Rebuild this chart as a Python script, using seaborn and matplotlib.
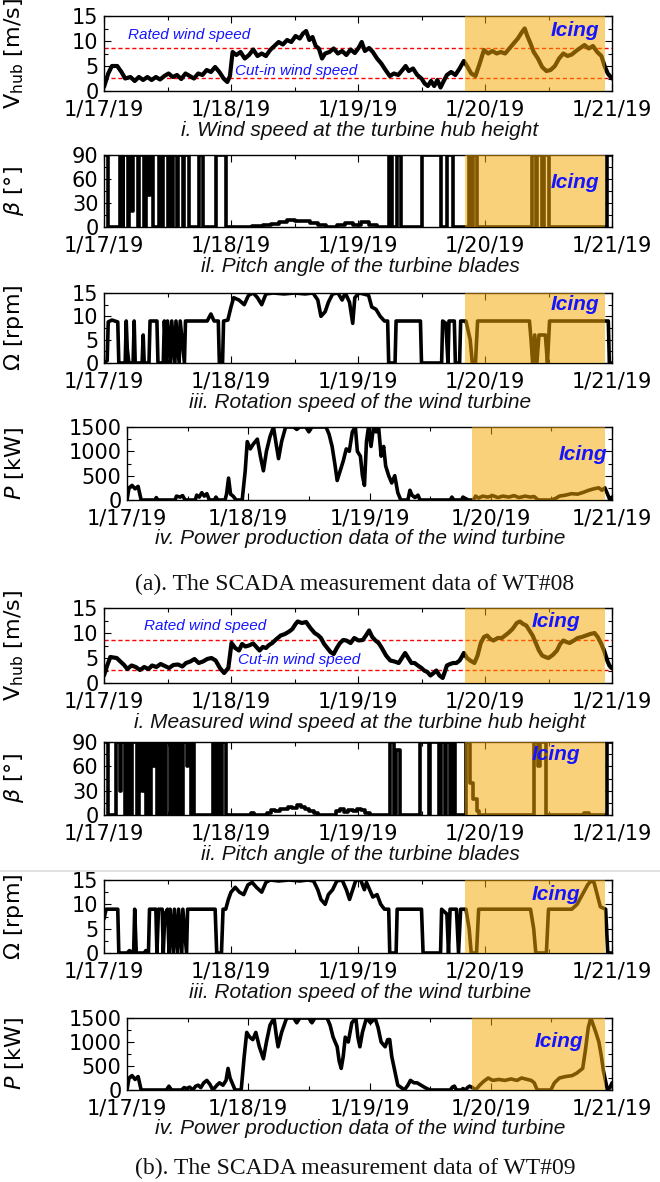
import pandas as pd
import seaborn as sns
import matplotlib.pyplot as plt
import matplotlib.dates as mdates
from matplotlib.ticker import MultipleLocator
from matplotlib.lines import Line2D

# ---- data (hour since 1/17/19 00:00, value) ----
wind_a = [(0, 0.8), (0.8, 3.5), (1.5, 5.0), (2.5, 5.0), (3.3, 3.8), (4.0, 2.5), (5, 2.8), (5.8, 2.0),
          (6.6, 2.8), (7.4, 2.2), (8.2, 2.8), (9.0, 2.2), (9.8, 2.8), (10.6, 2.3), (11.4, 3.0), (12.2, 3.5),
          (13, 2.8), (13.8, 3.2), (14.6, 2.4), (15.4, 3.5), (16.2, 3.0), (17, 2.5), (17.8, 3.5), (18.6, 3.2),
          (19.4, 4.2), (20.2, 3.8), (21, 4.8), (21.8, 3.8), (22.6, 2.5), (23.3, 1.8), (23.8, 3.0), (24.3, 7.8),
          (25, 7.2), (25.8, 7.8), (26.6, 6.5), (27.4, 7.2), (28.2, 8.3), (29, 7.0), (29.8, 7.5), (30.6, 7.0),
          (31.4, 8.2), (32.2, 9.0), (33, 9.8), (33.8, 9.3), (34.6, 10.2), (35.4, 9.8), (36.2, 11.0), (37, 10.5),
          (37.6, 11.5), (38.2, 12.0), (38.8, 10.2), (39.4, 10.8), (40, 9.0), (40.6, 8.5), (41.2, 6.5), (41.8, 7.5),
          (42.6, 7.8), (43.4, 8.5), (44.2, 7.5), (45, 8.0), (45.8, 7.2), (46.6, 8.3), (47.4, 7.6), (48.1, 8.6),
          (48.7, 9.8), (49.3, 8.0), (50.1, 8.6), (50.8, 7.8), (51.6, 6.5), (52.4, 5.5), (53.2, 4.2), (54, 3.0),
          (54.8, 3.5), (55.6, 3.2), (56.4, 4.2), (57, 5.0), (57.6, 4.0), (58.4, 4.5), (59.2, 3.2), (60, 2.5),
          (60.6, 1.5), (61.2, 1.0), (61.8, 2.0), (62.4, 1.0), (63, 2.2), (63.6, 0.7), (64.2, 2.0), (64.8, 3.2),
          (65.6, 3.8), (66.4, 3.2), (67.2, 4.5), (68, 6.0), (68.6, 5.0), (69.4, 3.5), (70.2, 3.0), (71, 5.5),
          (71.8, 8.2), (72.6, 7.5), (73.4, 8.0), (74.2, 7.5), (75, 7.8), (75.8, 7.5), (76.6, 8.5), (77.4, 9.5),
          (78.2, 10.5), (79, 11.8), (79.5, 12.5), (80, 11.0), (80.6, 9.5), (81.2, 7.8), (82, 6.5), (82.8, 4.8),
          (83.6, 4.0), (84.4, 4.2), (85.2, 5.0), (86, 6.5), (86.8, 7.5), (87.6, 7.0), (88.4, 7.3), (89.2, 8.0),
          (90, 8.6), (90.8, 9.2), (91.6, 8.5), (92.4, 9.0), (93.2, 7.8), (94, 7.0), (94.6, 5.0), (95.2, 3.5),
          (96, 2.5)]

pitch_a = [(0, 90), (0.8, 0), (3.0, 90), (3.5, 0), (3.6, 90), (4.5, 0), (4.8, 90), (5.3, 20), (5.5, 90),
           (6.4, 0), (6.7, 90), (7.6, 0), (7.9, 90), (8.4, 40), (8.6, 90), (9.2, 0), (10.4, 90), (11.0, 0),
           (11.2, 90), (12.0, 0), (12.2, 90), (12.9, 0), (13.1, 90), (13.8, 0), (14.0, 90), (14.9, 0),
           (15.1, 90), (16.0, 0), (18.0, 90), (18.8, 0), (21.2, 90), (23.1, 0), (28, 1), (30, 2), (31.5, 4),
           (33, 6), (34.5, 9), (36, 7), (37.5, 8), (39, 5), (40.5, 3), (42, 0), (44, 3), (45.5, 5), (47, 2),
           (48.5, 6), (50, 3), (51.5, 0), (53.8, 90), (54.5, 0), (55.3, 90), (56.1, 0), (60.0, 90), (63.6, 0),
           (64.8, 90), (65.9, 0), (68.9, 90), (69.5, 0), (69.8, 90), (70.4, 0), (80.8, 90), (81.6, 0),
           (81.9, 90), (82.8, 0), (83.1, 90), (84.0, 0), (95.1, 90), (96, 90)]

rotor_a = [(0, 0), (0.6, 0.5), (0.8, 8.8), (1.5, 9.2), (2.6, 8.8), (2.8, 0), (4.0, 0), (4.2, 9), (4.4, 3),
           (4.7, 0), (5.5, 0), (5.7, 9), (5.9, 0), (7.2, 0), (7.4, 6), (7.6, 0), (8.5, 0), (8.7, 9), (10.0, 9),
           (10.2, 0), (11.2, 0), (11.4, 9), (11.8, 0), (12.0, 9), (12.6, 0), (12.8, 9), (13.4, 0), (13.6, 9),
           (14.2, 0), (14.4, 9), (15.2, 0), (15.4, 9), (16.3, 9), (18, 9), (19.5, 9), (20.2, 10.5), (20.8, 9),
           (21.6, 9), (21.8, 0), (22.4, 0), (22.6, 9), (23.4, 9.2), (24.0, 12), (24.5, 14), (25.5, 13.5),
           (26.5, 12.5), (27.3, 14.5), (28.2, 15), (29.0, 14), (29.8, 12.5), (30.6, 14.8), (32, 15), (34, 14.8),
           (36, 15), (38, 14.8), (39.5, 15), (40.4, 13.5), (41.0, 10), (41.8, 11), (42.4, 13), (43.2, 14.8),
           (44.2, 15), (45.0, 13.5), (45.6, 15), (46.4, 13), (47.0, 8.5), (47.4, 14), (48.2, 15), (49.0, 14.8),
           (50.0, 14.5), (50.6, 12), (51.4, 11.5), (52.2, 10), (53.0, 9), (53.6, 9), (53.8, 0), (55.0, 0),
           (55.2, 9), (57, 9), (58.5, 9), (59.8, 9), (60.0, 0), (63.8, 0), (64.0, 9), (64.6, 8.5), (65.0, 0),
           (65.2, 9), (66.2, 9), (66.4, 0), (67.2, 0), (67.4, 9), (68.4, 9), (69.2, 5), (69.6, 0), (70.2, 0),
           (70.6, 9), (80.4, 9), (80.7, 5), (81.0, 0), (81.4, 6), (81.8, 0), (82.2, 6), (83.4, 6), (83.8, 0),
           (84.2, 9), (95.3, 9), (95.5, 0), (96, 0)]

power_a = [(0, 0), (0.4, 250), (1.0, 300), (1.6, 230), (2.2, 280), (2.8, 0), (5.5, 0), (5.8, 50), (6.1, 0),
           (9.5, 0), (9.8, 80), (10.5, 60), (11.0, 90), (11.5, 0), (13.5, 0), (13.8, 100), (14.3, 60),
           (14.8, 150), (15.3, 80), (15.8, 130), (16.3, 0), (17.3, 0), (17.6, 60), (18.0, 0), (19.4, 0),
           (19.7, 120), (20.1, 450), (20.5, 120), (21.0, 80), (21.6, 0), (22.8, 0), (23.4, 600), (23.8, 1200),
           (24.4, 1050), (25.0, 1150), (25.8, 1250), (26.4, 900), (27.0, 600), (27.6, 1000), (28.3, 1300),
           (29.0, 1500), (29.6, 1100), (30.0, 850), (30.6, 1200), (31.4, 1500), (33, 1500), (33.6, 1450),
           (34.2, 1500), (35.4, 1500), (36.0, 1400), (36.6, 1500), (38, 1500), (39.4, 1500), (40.0, 1350),
           (40.6, 1100), (41.2, 700), (41.6, 400), (42.2, 600), (42.8, 800), (43.4, 1050), (44.0, 1000),
           (44.6, 1400), (45.2, 1500), (45.6, 1000), (46.2, 900), (46.6, 500), (47.0, 300), (47.4, 1200),
           (47.8, 1500), (48.3, 1100), (48.8, 1500), (49.3, 1400), (49.8, 1500), (50.3, 900), (50.8, 1100),
           (51.2, 700), (51.8, 500), (52.4, 350), (53.0, 500), (53.6, 150), (54.2, 0), (55.6, 0), (56.0, 200),
           (56.4, 100), (57.0, 50), (57.6, 100), (58.0, 0), (64.0, 0), (64.3, 60), (64.7, 0), (66.2, 0),
           (66.5, 60), (67.0, 30), (67.6, 0), (68.6, 0), (69.0, 80), (69.6, 40), (70.4, 80), (71.4, 60),
           (72.4, 90), (73.4, 50), (74.4, 80), (75.6, 60), (76.6, 90), (77.6, 50), (78.8, 80), (79.8, 60),
           (80.6, 70), (81.4, 0), (84.0, 0), (84.8, 30), (85.6, 80), (86.8, 100), (88.0, 130), (89.2, 120),
           (90.4, 160), (91.4, 200), (92.4, 230), (93.4, 250), (94.0, 200), (94.6, 250), (95.2, 100),
           (95.6, 0), (96, 60)]

wind_b = [(0, 1.5), (0.6, 3.5), (1.2, 5.2), (2.4, 5.0), (3.2, 4.2), (3.8, 3.6), (4.4, 2.8), (5.2, 3.5),
          (6.0, 3.2), (6.8, 2.6), (7.6, 3.2), (8.4, 2.8), (9.1, 3.5), (9.9, 3.2), (10.7, 3.8), (11.5, 3.4),
          (12.3, 3.0), (13.1, 3.6), (14.0, 3.7), (14.8, 3.3), (15.5, 4.0), (16.3, 4.3), (17.1, 4.8),
          (17.9, 4.0), (18.7, 4.3), (19.5, 4.8), (20.3, 5.0), (21.1, 4.5), (21.9, 3.0), (22.7, 2.0),
          (23.5, 3.0), (24.1, 8.0), (24.8, 7.0), (25.5, 6.5), (26.1, 7.8), (26.7, 7.3), (27.4, 7.5),
          (28.2, 7.9), (28.8, 7.2), (29.4, 6.5), (30.0, 7.2), (30.6, 7.0), (31.2, 7.6), (31.8, 8.0),
          (32.6, 8.8), (33.4, 9.5), (34.2, 9.8), (35.0, 10.3), (35.6, 10.8), (36.2, 11.8), (36.6, 12.3),
          (37.4, 12.0), (38.2, 12.2), (39.0, 11.0), (39.8, 10.0), (40.4, 9.6), (41.0, 9.0), (41.6, 7.8),
          (42.2, 7.0), (42.8, 6.2), (43.4, 5.8), (44.0, 7.0), (44.6, 8.0), (45.2, 8.6), (45.8, 8.5),
          (46.6, 8.0), (47.3, 9.0), (48.1, 8.5), (48.9, 8.6), (49.5, 9.5), (50.1, 10.5), (50.7, 9.2),
          (51.3, 8.5), (51.9, 8.0), (52.5, 7.0), (53.3, 5.5), (54.1, 4.5), (54.9, 4.3), (55.7, 4.0),
          (56.3, 5.0), (56.9, 6.0), (57.5, 5.0), (58.1, 4.0), (58.7, 4.0), (59.3, 3.5), (60.0, 3.0),
          (60.5, 2.5), (61.1, 2.2), (61.7, 1.5), (62.3, 2.0), (62.8, 2.5), (63.4, 1.5), (64.0, 1.0),
          (64.4, 2.2), (64.8, 3.5), (65.4, 3.8), (66.0, 4.0), (66.6, 4.0), (67.2, 4.5), (67.6, 5.2),
          (68.0, 6.0), (68.6, 5.0), (69.2, 4.5), (70.0, 4.0), (70.6, 5.5), (71.2, 8.0), (71.8, 9.2),
          (72.4, 9.5), (73.0, 8.8), (73.6, 8.5), (74.4, 9.0), (75.2, 9.0), (75.8, 9.5), (76.4, 10.0),
          (77.2, 10.8), (78.0, 12.0), (78.6, 12.3), (79.2, 11.8), (79.8, 11.5), (80.4, 10.5), (81.0, 9.5),
          (81.6, 8.0), (82.2, 6.5), (82.8, 5.5), (83.4, 5.2), (84.0, 5.0), (84.8, 5.6), (85.6, 6.5),
          (86.2, 7.8), (86.8, 8.5), (87.4, 8.2), (88.0, 8.0), (88.8, 8.5), (89.5, 9.0), (90.3, 9.2),
          (91.1, 9.5), (91.9, 9.8), (92.7, 10.0), (93.3, 9.2), (93.9, 8.0), (94.5, 6.5), (95.1, 4.5),
          (95.5, 3.5), (95.9, 3.0)]

pitch_b = [(0, 90), (0.8, 0), (2.3, 90), (3.0, 30), (3.3, 90), (4.0, 0), (4.3, 90), (4.9, 0), (5.3, 90),
           (6.3, 0), (6.6, 90), (7.2, 30), (7.6, 90), (8.0, 0), (8.3, 90), (8.7, 0), (8.9, 90), (9.3, 60),
           (9.6, 90), (10.0, 0), (10.2, 90), (10.8, 0), (11.0, 90), (11.6, 0), (11.8, 90), (12.4, 0),
           (13.0, 90), (13.4, 0), (13.6, 90), (14.0, 0), (14.3, 90), (14.8, 0), (15.0, 90), (15.6, 60),
           (15.9, 90), (16.4, 0), (16.6, 90), (17.0, 0), (20.6, 90), (21.2, 0), (21.5, 90), (22.0, 0),
           (22.3, 90), (23.0, 0), (27.8, 3), (28.4, 0), (30.8, 3), (31.6, 6), (32.4, 5), (33.2, 8), (34.0, 7),
           (34.8, 10), (35.6, 9), (36.4, 12), (37.2, 10), (38.0, 8), (38.8, 5), (39.6, 3), (40.4, 0),
           (43.8, 5), (44.6, 7), (45.4, 4), (46.2, 6), (47.0, 5), (47.8, 8), (48.6, 6), (49.4, 3), (50.2, 0),
           (54.0, 90), (54.8, 0), (55.2, 80), (56.0, 0), (59.8, 90), (61.4, 0), (61.6, 90), (63.3, 0),
           (63.6, 90), (64.4, 0), (64.6, 90), (65.4, 0), (65.8, 90), (66.4, 0), (68.4, 90), (69.2, 40),
           (69.8, 20), (70.4, 5), (70.8, 0), (81.2, 90), (82.0, 60), (82.4, 90), (83.6, 0), (90.8, 3),
           (91.6, 0), (95.0, 90), (96, 90)]

rotor_b = [(0, 7), (0.4, 9), (2.6, 9), (2.8, 0), (4.4, 0), (4.8, 0.5), (5.6, 0), (5.8, 9), (6.1, 0),
           (7.6, 0), (7.9, 0.5), (8.4, 0), (8.6, 9), (9.8, 9), (10.0, 0), (10.3, 9), (11.0, 9), (11.2, 0),
           (11.5, 8), (12.0, 9), (12.3, 0), (12.5, 9), (13.1, 0), (13.3, 9), (13.9, 0), (14.1, 9), (14.7, 0),
           (14.9, 9), (15.6, 0), (15.8, 9), (16.5, 9), (18, 9), (20, 9), (21.0, 9), (21.3, 0), (22.2, 0),
           (22.5, 9), (23.0, 9), (23.5, 11), (24.0, 12.5), (24.8, 13.5), (25.6, 12.5), (26.4, 12),
           (27.2, 14), (28.0, 14.5), (28.8, 13.5), (29.8, 12.5), (30.6, 14.5), (31.4, 15), (33, 14.8),
           (35, 15), (37, 14.8), (38.5, 15), (39.6, 14.8), (40.4, 13), (41.0, 11), (41.8, 10), (42.4, 12),
           (43.2, 13), (44.0, 14.8), (45.0, 15), (45.8, 13), (46.4, 11), (47.0, 13), (47.6, 15), (48.5, 15),
           (49.2, 13), (49.6, 14.5), (50.2, 13), (50.8, 11.5), (51.6, 12), (52.3, 10), (53.0, 9), (53.8, 9),
           (54.0, 0), (55.2, 0), (55.4, 9), (57, 9), (59, 9), (60.0, 9), (60.3, 0), (63.6, 0), (63.8, 9),
           (64.8, 8), (65.1, 0), (65.4, 9), (66.6, 9), (67.0, 0), (67.4, 9), (68.4, 9), (69.0, 5), (69.4, 0),
           (70.4, 0), (70.8, 9), (80.6, 9), (81.2, 5), (81.6, 0), (83.6, 0), (84.0, 9), (88.4, 9),
           (89.4, 10), (90.4, 12), (91.4, 14), (92.0, 14.8), (92.6, 14.5), (93.2, 12), (93.8, 9.5),
           (94.8, 9), (95.2, 0), (96, 0)]

power_b = [(0, 0), (0.4, 250), (1.0, 300), (1.6, 220), (2.2, 280), (2.8, 0), (7.8, 0), (8.3, 80), (8.8, 0),
           (10.8, 0), (11.3, 50), (11.8, 30), (12.4, 60), (13.0, 0), (13.6, 80), (14.1, 100), (14.6, 50),
           (15.2, 150), (15.8, 200), (16.4, 120), (17.0, 0), (17.8, 100), (18.3, 150), (19.0, 100),
           (19.6, 200), (20.0, 450), (20.4, 250), (20.8, 150), (21.4, 0), (22.6, 0), (23.2, 700),
           (23.7, 1200), (24.3, 1100), (24.9, 1050), (25.5, 1200), (26.2, 900), (27.0, 650), (27.6, 1000),
           (28.3, 1350), (29.1, 1500), (29.6, 1100), (29.9, 900), (30.6, 1200), (31.6, 1500), (33, 1500),
           (33.6, 1400), (34.2, 1500), (36, 1500), (36.6, 1400), (37.2, 1500), (39.6, 1500), (40.2, 1350),
           (40.8, 1100), (41.6, 900), (42.0, 600), (42.4, 450), (42.8, 700), (43.2, 1100), (43.8, 1000),
           (44.5, 1400), (45.3, 1500), (45.7, 1100), (46.1, 900), (46.6, 1200), (47.4, 1500), (48.2, 1400),
           (49.1, 1500), (49.7, 1300), (50.3, 1000), (51.1, 900), (51.6, 1050), (52.0, 1050), (52.4, 700),
           (52.8, 500), (53.2, 300), (53.6, 100), (54.3, 50), (54.9, 0), (55.6, 100), (56.1, 200),
           (56.8, 150), (57.4, 150), (58.2, 100), (59.0, 50), (59.9, 0), (64.0, 0), (64.4, 60), (64.8, 80),
           (65.2, 0), (66.2, 0), (66.5, 30), (67.0, 0), (67.4, 50), (67.8, 80), (68.4, 50), (69.0, 0),
           (69.8, 100), (70.6, 180), (71.5, 250), (72.4, 200), (73.6, 220), (74.8, 200), (76.0, 230),
           (77.2, 200), (78.1, 250), (79.2, 220), (80.0, 200), (80.6, 150), (81.2, 0), (83.9, 0),
           (84.6, 150), (85.6, 250), (86.8, 280), (88.1, 300), (89.0, 350), (89.6, 400), (90.2, 450),
           (90.7, 800), (91.3, 1300), (91.8, 1500), (92.3, 1350), (92.8, 1200), (93.4, 1000), (93.9, 700),
           (94.3, 400), (94.8, 150), (95.1, 0), (95.6, 50), (96, 150)]

icing_hours = (68.2, 94.7)
rated_speed = 8.7
cutin_speed = 2.7

subtitles_a = ["i. Wind speed at the turbine hub height", "il. Pitch angle of the turbine blades",
               "iii. Rotation speed of the wind turbine", "iv. Power production data of the wind turbine"]
subtitles_b = ["i. Measured wind speed at the turbine hub height", "ii. Pitch angle of the turbine blades",
               "iii. Rotation speed of the wind turbine", "iv. Power production data of the wind turbine"]
captions = ["(a). The SCADA measurement data of WT#08", "(b). The SCADA measurement data of WT#09"]

# ---- style ----
sns.set_theme(style="white")
plt.rcParams["font.family"] = ["DejaVu Sans"]
plt.rcParams["mathtext.fontset"] = "dejavusans"

T0 = pd.Timestamp("2019-01-17")
W, H = 660, 1182
fig = plt.figure(figsize=(W / 100, H / 100), dpi=100)
fig.patch.set_facecolor("white")

BLUE = "#1414ff"


def add_px_axes(left, right, top, bottom):
    return fig.add_axes([left / W, 1 - bottom / H, (right - left) / W, (bottom - top) / H])


def to_frame(pairs):
    df = pd.DataFrame(pairs, columns=["hour", "value"])
    df["time"] = T0 + pd.to_timedelta(df["hour"], unit="h")
    return df


def draw_panel(ax, pairs, ymax, ystep, ylabel, lw, step=False, label_x=-0.15):
    df = to_frame(pairs)
    sns.lineplot(data=df, x="time", y="value", ax=ax, color="black", lw=lw, estimator=None,
                 drawstyle="steps-post" if step else "default", zorder=2)
    ax.axvspan(T0 + pd.Timedelta(hours=icing_hours[0]), T0 + pd.Timedelta(hours=icing_hours[1]),
               color="#F5A800", alpha=0.52, lw=0, zorder=3)
    ax.set_xlim(T0, T0 + pd.Timedelta(days=4))
    ax.set_ylim(0, ymax)
    ax.xaxis.set_major_locator(mdates.DayLocator())
    ax.xaxis.set_minor_locator(mdates.HourLocator(byhour=[12]))
    ax.xaxis.set_major_formatter(mdates.DateFormatter("%-m/%d/%y"))
    ax.yaxis.set_major_locator(MultipleLocator(ystep))
    ax.yaxis.set_minor_locator(MultipleLocator(ystep / 2))
    ax.tick_params(which="both", direction="in", top=True, right=True, bottom=True, left=True,
                   colors="black")
    ax.tick_params(axis="x", pad=6, labelsize=15)
    ax.tick_params(axis="y", pad=4, labelsize=15)
    ax.tick_params(which="major", length=5, width=0.8)
    ax.tick_params(which="minor", length=3, width=0.8)
    for s in ax.spines.values():
        s.set_color("black")
        s.set_linewidth(1.0)
    ax.set_xlabel("")
    ax.set_ylabel(ylabel, fontsize=16, color="black")
    ax.yaxis.set_label_coords(label_x, 0.5)


def icing(ax, x, y):
    ax.text(x, y, "Icing", transform=ax.transAxes, color=BLUE, fontsize=15, fontweight="bold",
            style="italic", ha="center", va="center", zorder=5, family="Liberation Sans")


def speed_lines(ax, rated_pos, cut_pos):
    ax.axhline(rated_speed, color="red", lw=1.0, ls=(0, (3, 2)), zorder=1)
    ax.axhline(cutin_speed, color="red", lw=1.0, ls=(0, (3, 2)), zorder=1)
    ax.text(rated_pos[0], rated_pos[1], "Rated wind speed", transform=ax.get_yaxis_transform(),
            color=BLUE, fontsize=11, style="italic", va="center", family="Liberation Sans")
    ax.text(cut_pos[0], cut_pos[1], "Cut-in wind speed", transform=ax.get_yaxis_transform(),
            color=BLUE, fontsize=11, style="italic", va="center", family="Liberation Sans")


LW_V, LW_B, LW_O, LW_P = 3.0, 2.6, 2.6, 2.6
vlabel = r"$\mathregular{V_{hub}}$ [m/s]"
blabel = r"$\beta$ [°]"
olabel = r"$\mathit{\Omega}$ [rpm]"
plabel = r"$P$ [kW]"

sections = [
    (wind_a, pitch_a, rotor_a, power_a, subtitles_a, captions[0],
     [(16, 91), (155, 227), (293, 363), (427, 500)], 584,
     [(0.927, 0.80), (0.927, 0.62), (0.927, 0.83), (0.94, 0.62)],
     ((0.047, 11.3), (0.258, 4.0))),
    (wind_b, pitch_b, rotor_b, power_b, subtitles_b, captions[1],
     [(608, 683), (742, 815), (880, 953), (1018, 1090)], 1168,
     [(0.89, 0.82), (0.89, 0.83), (0.89, 0.80), (0.89, 0.68)],
     ((0.079, 11.3), (0.264, 4.6))),
]

for wind, pitch, rotor, power, subs, cap, rows, cap_y, icing_pos, txt_pos in sections:
    specs = [(wind, 15, 5, vlabel, LW_V, False, 104),
             (pitch, 90, 30, blabel, LW_B, True, 104),
             (rotor, 15, 5, olabel, LW_O, False, 104),
             (power, 1500, 500, plabel, LW_P, False, 127)]
    for k, ((series, ymax, ystep, ylab, lw, step, left), (top, bottom)) in enumerate(zip(specs, rows)):
        ax = add_px_axes(left, 612, top, bottom)
        label_x = (26 - left) / (612 - left)
        draw_panel(ax, series, ymax, ystep, ylab, lw, step=step, label_x=label_x)
        icing(ax, *icing_pos[k])
        if k == 0:
            speed_lines(ax, *txt_pos)
        fig.text(360 / W, 1 - (bottom + 39) / H, subs[k], ha="center", va="center",
                 fontsize=15, style="italic", family="Liberation Sans", color="#111111")
    fig.text(355 / W, 1 - cap_y / H, cap, ha="center", va="center", fontsize=17,
             family="Liberation Serif", color="#111111")

fig.add_artist(Line2D([0, 1], [1 - 871 / H, 1 - 871 / H], color="#dcdcdc", lw=1.2))

fig.savefig("out.png", dpi=100, facecolor="white")
